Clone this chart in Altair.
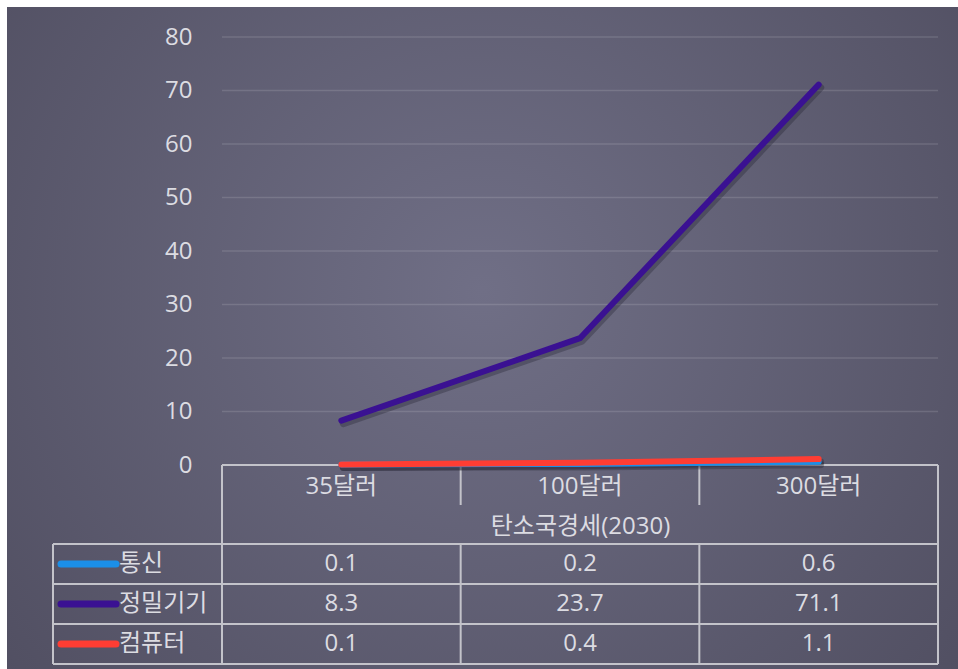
import altair as alt
import pandas as pd

# --- data -------------------------------------------------------------
categories = ["35달러", "100달러", "300달러"]
series_names = ["통신", "정밀기기", "컴퓨터"]
telecom = [0.1, 0.2, 0.6]
precision = [8.3, 23.7, 71.1]
computer = [0.1, 0.4, 1.1]
series_colors = ["#1b8fe8", "#3a1192", "#ff3d33"]
y_ticks = [0, 10, 20, 30, 40, 50, 60, 70, 80]
x_title = "탄소국경세(2030)"

values_by_series = dict(zip(series_names, [telecom, precision, computer]))
rows = [
    {"cat": c, "series": s, "value": v, "label": f"{v:g}"}
    for s in series_names
    for c, v in zip(categories, values_by_series[s])
]
df = pd.DataFrame(rows)

# --- layout / style ---------------------------------------------------
W, H = 716, 428            # plot area
PAD_L, PAD_T = 222, 37
TOTAL_W, TOTAL_H = 958, 669
FONT = "Open Sans, Noto Sans CJK KR"
FS = 24
TEXT = "#dcdce2"
GRID = "rgba(255,255,255,0.13)"
TABLE_LINE = "#c3c3ca"

TABLE_LEFT = -169          # left edge of the series-name column
CAT_ROW_BOTTOM = H + 40
HEADER_BOTTOM = H + 79
ROW_H = 40
row_centers = [HEADER_BOTTOM + ROW_H * i + ROW_H / 2 for i in range(3)]
TABLE_BOTTOM = HEADER_BOTTOM + ROW_H * 3

x_scale = alt.Scale(type="band", domain=categories, paddingInner=0, paddingOuter=0)
y_scale = alt.Scale(domain=[0, 80], nice=False, zero=True)

x_axis = alt.Axis(
    title=x_title, labelAngle=0, labelPadding=9, labelFontSize=FS,
    labelColor=TEXT, labelFont=FONT, titleFontSize=FS, titleFont=FONT,
    titleFontWeight="normal", titleColor=TEXT, titlePadding=16,
    domain=False, ticks=False, grid=False, zindex=1,
)
y_axis = alt.Axis(
    values=y_ticks, grid=False, domain=False, ticks=False, labelPadding=30,
    labelFontSize=FS, labelColor=TEXT, labelFont=FONT, title=None, zindex=1,
)


def xfield(band_pos):
    return alt.X("cat:N", bandPosition=band_pos, scale=x_scale, axis=x_axis)


one = pd.DataFrame({"k": [0]})


def rule(x1, x2, y1, y2, color=TABLE_LINE, width=2):
    return alt.Chart(one).mark_rule(color=color, strokeWidth=width).encode(
        x=alt.value(x1), x2=alt.value(x2), y=alt.value(y1), y2=alt.value(y2)
    )


# background panel with a soft radial glow
background = alt.Chart(one).mark_rect(
    fill=alt.RadialGradient(
        gradient="radial",
        stops=[
            alt.GradientStop(color="#706f86", offset=0),
            alt.GradientStop(color="#4c4a5c", offset=1),
        ],
        x1=0.5, y1=0.45, r1=0, x2=0.5, y2=0.45, r2=0.75,
    )
).encode(
    x=alt.value(-(PAD_L - 7)), x2=alt.value(TOTAL_W - PAD_L),
    y=alt.value(-(PAD_T - 7)), y2=alt.value(TOTAL_H - PAD_T),
)

# horizontal gridlines
grid = alt.Chart(pd.DataFrame({"tick": y_ticks[1:]})).mark_rule(
    color=GRID, strokeWidth=1.5
).encode(
    y=alt.Y("tick:Q", scale=y_scale, axis=y_axis),
    x=alt.value(0), x2=alt.value(W),
)

# data table frame
frame = [
    rule(0, W, H, H),                                  # top of header
    rule(0, 0, H, HEADER_BOTTOM),                      # header left
    rule(W, W, H, TABLE_BOTTOM),                       # right border
    rule(TABLE_LEFT, TABLE_LEFT, HEADER_BOTTOM, TABLE_BOTTOM),
]
for i in range(4):
    yy = HEADER_BOTTOM + ROW_H * i
    frame.append(rule(TABLE_LEFT, W, yy, yy))

cat_df = pd.DataFrame({"cat": categories})
frame.append(
    alt.Chart(cat_df[cat_df.cat != categories[0]]).mark_rule(
        color=TABLE_LINE, strokeWidth=2
    ).encode(x=xfield(0), y=alt.value(H), y2=alt.value(CAT_ROW_BOTTOM))
)
frame.append(
    alt.Chart(cat_df).mark_rule(color=TABLE_LINE, strokeWidth=2).encode(
        x=xfield(0), y=alt.value(HEADER_BOTTOM), y2=alt.value(TABLE_BOTTOM)
    )
)

# series lines (with a faint drop shadow)
line_layers = []
for s, col in zip(series_names, series_colors):
    sub = df[df.series == s]
    enc = dict(x=xfield(0.5), y=alt.Y("value:Q", scale=y_scale, axis=y_axis))
    line_layers.append(
        alt.Chart(sub).mark_line(
            color="#1c1a28", opacity=0.3, strokeWidth=7, strokeCap="round",
            strokeJoin="round", xOffset=2, yOffset=3,
        ).encode(**enc)
    )
for s, col in zip(series_names, series_colors):
    sub = df[df.series == s]
    enc = dict(x=xfield(0.5), y=alt.Y("value:Q", scale=y_scale, axis=y_axis))
    line_layers.append(
        alt.Chart(sub).mark_line(
            color=col, strokeWidth=6, strokeCap="round", strokeJoin="round"
        ).encode(**enc)
    )

# table rows: legend key, series name, values
table_layers = []
for s, col, yc in zip(series_names, series_colors, row_centers):
    sub = df[df.series == s]
    table_layers.append(
        alt.Chart(one).mark_rule(color=col, strokeWidth=7, strokeCap="round").encode(
            x=alt.value(TABLE_LEFT + 8), x2=alt.value(TABLE_LEFT + 63),
            y=alt.value(yc), y2=alt.value(yc),
        )
    )
    table_layers.append(
        alt.Chart(pd.DataFrame({"name": [s]})).mark_text(
            align="left", baseline="middle", fontSize=FS, font=FONT, color=TEXT
        ).encode(x=alt.value(TABLE_LEFT + 66), y=alt.value(yc), text="name:N")
    )
    table_layers.append(
        alt.Chart(sub).mark_text(
            align="center", baseline="middle", fontSize=FS, font=FONT, color=TEXT
        ).encode(x=xfield(0.5), y=alt.value(yc), text="label:N")
    )

chart = alt.layer(
    background, grid, *frame, *line_layers, *table_layers
).properties(
    width=W, height=H,
    autosize=alt.AutoSizeParams(type="none"),
    padding={"left": PAD_L, "top": PAD_T, "right": TOTAL_W - PAD_L - W,
             "bottom": TOTAL_H - PAD_T - H},
    background="white",
).configure_view(stroke=None)

chart.save("out.html", embed_options={"renderer": "svg", "actions": False})
